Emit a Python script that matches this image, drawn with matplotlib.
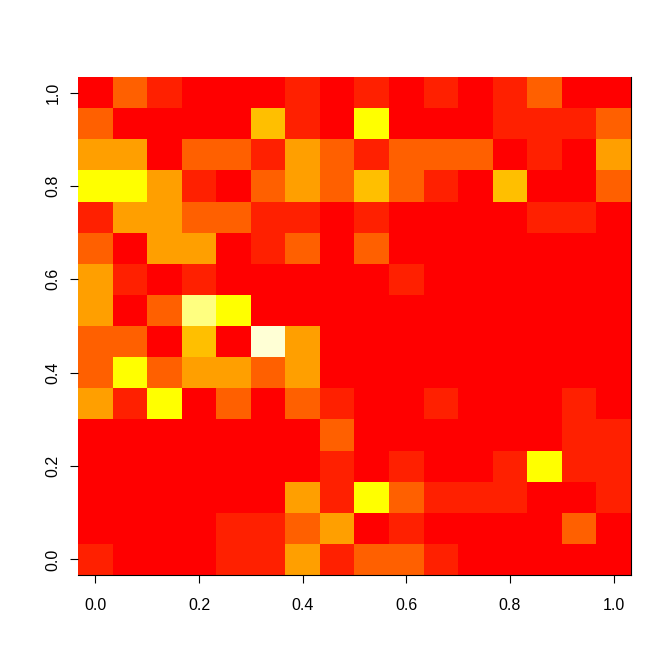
import numpy as np
import matplotlib
matplotlib.use("Agg")
import matplotlib.pyplot as plt
from matplotlib.colors import ListedColormap, BoundaryNorm

plt.rcParams['font.family'] = ['Liberation Sans', 'DejaVu Sans']

# colour level of each cell, rows listed from top (y=1.0) to bottom (y=0.0)
levels_top_to_bottom = [
    [0, 2, 1, 0, 0, 0, 1, 0, 1, 0, 1, 0, 1, 2, 0, 0],
    [2, 0, 0, 0, 0, 4, 1, 0, 5, 0, 0, 0, 1, 1, 1, 2],
    [3, 3, 0, 2, 2, 1, 3, 2, 1, 2, 2, 2, 0, 1, 0, 3],
    [5, 5, 3, 1, 0, 2, 3, 2, 4, 2, 1, 0, 4, 0, 0, 2],
    [1, 3, 3, 2, 2, 1, 1, 0, 1, 0, 0, 0, 0, 1, 1, 0],
    [2, 0, 3, 3, 0, 1, 2, 0, 2, 0, 0, 0, 0, 0, 0, 0],
    [3, 1, 0, 1, 0, 0, 0, 0, 0, 1, 0, 0, 0, 0, 0, 0],
    [3, 0, 2, 6, 5, 0, 0, 0, 0, 0, 0, 0, 0, 0, 0, 0],
    [2, 2, 0, 4, 0, 7, 3, 0, 0, 0, 0, 0, 0, 0, 0, 0],
    [2, 5, 2, 3, 3, 2, 3, 0, 0, 0, 0, 0, 0, 0, 0, 0],
    [3, 1, 5, 0, 2, 0, 2, 1, 0, 0, 1, 0, 0, 0, 1, 0],
    [0, 0, 0, 0, 0, 0, 0, 2, 0, 0, 0, 0, 0, 0, 1, 1],
    [0, 0, 0, 0, 0, 0, 0, 1, 0, 1, 0, 0, 1, 5, 1, 1],
    [0, 0, 0, 0, 0, 0, 3, 1, 5, 2, 1, 1, 1, 0, 0, 1],
    [0, 0, 0, 0, 1, 1, 2, 3, 0, 1, 0, 0, 0, 0, 2, 0],
    [1, 0, 0, 0, 1, 1, 3, 1, 2, 2, 1, 0, 0, 0, 0, 0],
]
x_centers = np.linspace(0, 1, 16)
y_centers = np.linspace(0, 1, 16)
palette = ['#FF0000', '#FF2000', '#FF6000', '#FF9F00', '#FFBF00',
           '#FFFF00', '#FFFF80', '#FFFFD5']
tick_values = [0.0, 0.2, 0.4, 0.6, 0.8, 1.0]
tick_labels = ['0.0', '0.2', '0.4', '0.6', '0.8', '1.0']

Z = np.array(levels_top_to_bottom)[::-1]
dx = x_centers[1] - x_centers[0]
dy = y_centers[1] - y_centers[0]
x_edges = np.concatenate([x_centers - dx / 2, [x_centers[-1] + dx / 2]])
y_edges = np.concatenate([y_centers - dy / 2, [y_centers[-1] + dy / 2]])

cmap = ListedColormap(palette)
norm = BoundaryNorm(np.arange(len(palette) + 1) - 0.5, cmap.N)

fig = plt.figure(figsize=(6.72, 6.72), dpi=100)
ax = fig.add_axes([78 / 672, 97 / 672, 553 / 672, 498 / 672])
ax.pcolormesh(x_edges, y_edges, Z, cmap=cmap, norm=norm, shading='flat')
ax.set_xlim(x_edges[0], x_edges[-1])
ax.set_ylim(y_edges[0], y_edges[-1])

ax.set_xticks(tick_values)
ax.set_xticklabels(tick_labels)
ax.set_yticks(tick_values)
ax.set_yticklabels(tick_labels, rotation=90, va='center')
ax.tick_params(axis='both', direction='out', length=5.5, width=0.8,
               labelsize=11.5, color='black')
ax.tick_params(axis='x', pad=11)
ax.tick_params(axis='y', pad=7)

for side in ['left', 'top']:
    ax.spines[side].set_visible(False)
for side in ['right', 'bottom']:
    ax.spines[side].set_linewidth(0.8)
    ax.spines[side].set_color('black')

fig.savefig('out.png', dpi=100)
